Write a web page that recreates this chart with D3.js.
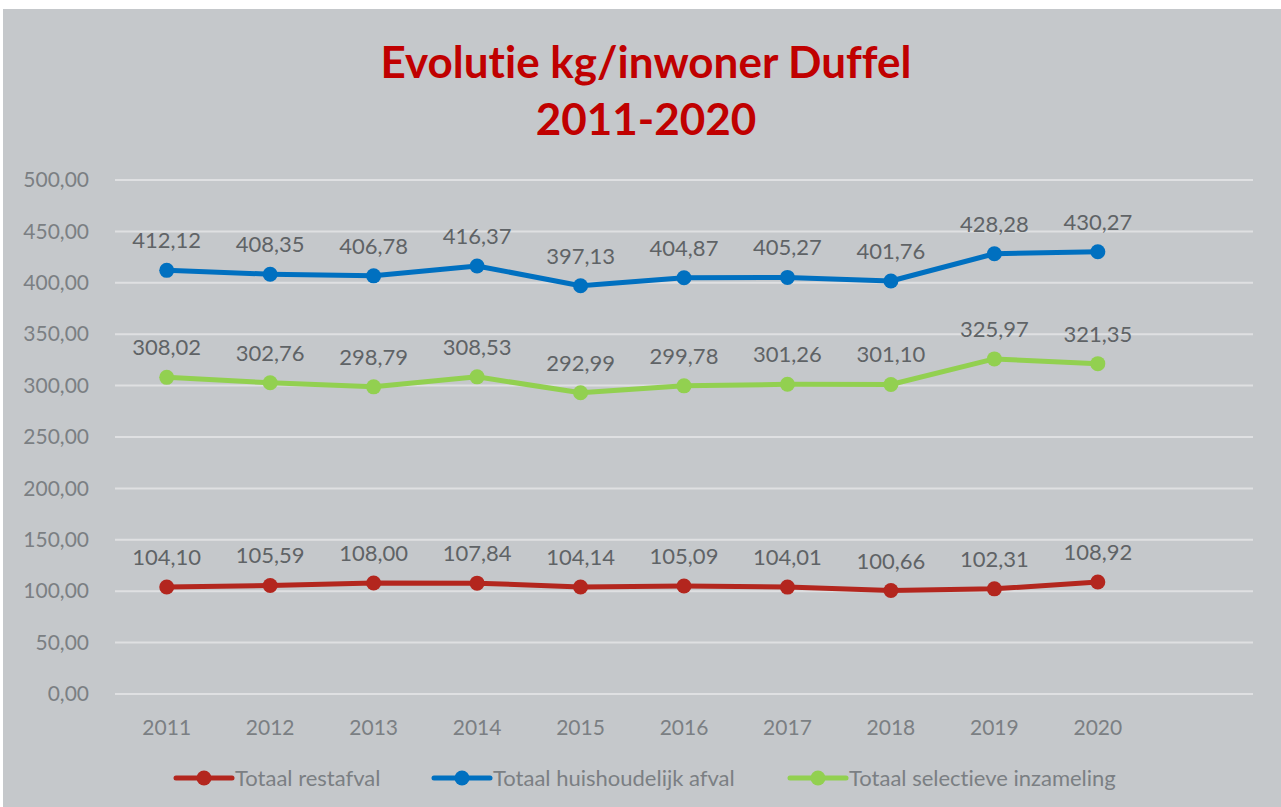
<!DOCTYPE html>
<html>
<head>
<meta charset="utf-8">
<script src="https://cdn.jsdelivr.net/npm/d3@7"></script>
<style>
  body { margin: 0; background: #fff; }
  svg { display: block; font-family: Lato, "Open Sans", sans-serif; font-variant-ligatures: none; }
</style>
</head>
<body>
<div id="chart"></div>
<script>
(function(){
	var years = ["2011", "2012", "2013", "2014", "2015", "2016", "2017", "2018", "2019", "2020"];
	var restafval = [104.10, 105.59, 108.00, 107.84, 104.14, 105.09, 104.01, 100.66, 102.31, 108.92];
	var huishoudelijk = [412.12, 408.35, 406.78, 416.37, 397.13, 404.87, 405.27, 401.76, 428.28, 430.27];
	var selectief = [308.02, 302.76, 298.79, 308.53, 292.99, 299.78, 301.26, 301.10, 325.97, 321.35];
	var seriesNames = ["Totaal restafval", "Totaal huishoudelijk afval", "Totaal selectieve inzameling"];
	var yTicks = [0, 50, 100, 150, 200, 250, 300, 350, 400, 450, 500];

	var colors = ["#b3261e", "#0070c0", "#92d050"];
	var series = [restafval, huishoudelijk, selectief].map(function(v, i) {
		return { name: seriesNames[i], color: colors[i], values: v };
	});

	var width = 1281, height = 807;
	var margin = {top: 180, right: 28, bottom: 113, left: 115};

	var fmt = function(v) { return d3.format(".2f")(v).replace(".", ","); };

	var svg = d3.select("#chart").append("svg")
		.attr("width", width)
		.attr("height", height);

	// chart area background
	svg.append("rect")
		.attr("x", 3).attr("y", 9)
		.attr("width", width - 3).attr("height", height - 9)
		.attr("fill", "#c5c8cb");

	// extra empty slot at the end, like the original
	var x = d3.scaleBand()
		.domain(years.concat([""]))
		.range([margin.left, width - margin.right]);

	var y = d3.scaleLinear()
		.domain([0, 500])
		.range([height - margin.bottom, margin.top]);

	// title
	var title = svg.append("text")
		.attr("text-anchor", "middle")
		.attr("fill", "#c00000")
		.style("font-weight", "bold")
		.style("font-size", "44px");
	title.append("tspan").attr("x", 646).attr("y", 78).text("Evolutie kg/inwoner Duffel");
	title.append("tspan").attr("x", 646).attr("y", 135).text("2011-2020");

	// gridlines
	svg.append("g")
		.selectAll("line")
		.data(yTicks)
		.enter()
		.append("line")
		.attr("x1", margin.left)
		.attr("x2", width - margin.right)
		.attr("y1", function(d) { return y(d); })
		.attr("y2", function(d) { return y(d); })
		.style("stroke", "#dfe0e2")
		.style("stroke-width", "2px");

	// y axis
	var yAxis = svg.append("g")
		.attr("transform", "translate(" + (margin.left - 23) + ",0)")
		.call(d3.axisLeft(y).tickValues(yTicks).tickSize(0).tickFormat(fmt));
	yAxis.select(".domain").remove();
	yAxis.selectAll("text")
		.attr("fill", "#7b7f83")
		.style("font-size", "21px")
		.style("font-family", "Lato, sans-serif");

	// x axis
	var xAxis = svg.append("g")
		.attr("transform", "translate(0," + (y(0) + 23) + ")")
		.call(d3.axisBottom(x).tickSize(0));
	xAxis.select(".domain").remove();
	xAxis.selectAll("text")
		.attr("fill", "#7b7f83")
		.style("font-size", "21px")
		.style("font-family", "Lato, sans-serif");

	var line = d3.line()
		.x(function(d, i) { return x(years[i]) + x.bandwidth() / 2; })
		.y(function(d) { return y(d); });

	var groups = svg.append("g")
		.selectAll("g.series")
		.data(series)
		.enter()
		.append("g")
		.attr("class", "series");

	groups.append("path")
		.attr("d", function(d) { return line(d.values); })
		.attr("fill", "none")
		.attr("stroke", function(d) { return d.color; })
		.attr("stroke-width", 5)
		.attr("stroke-linejoin", "round");

	groups.selectAll("circle")
		.data(function(d) { return d.values.map(function(v, i) { return {v: v, i: i, color: d.color}; }); })
		.enter()
		.append("circle")
		.attr("cx", function(d) { return x(years[d.i]) + x.bandwidth() / 2; })
		.attr("cy", function(d) { return y(d.v); })
		.attr("r", 7.5)
		.attr("fill", function(d) { return d.color; });

	groups.selectAll("text.lbl")
		.data(function(d) { return d.values.map(function(v, i) { return {v: v, i: i}; }); })
		.enter()
		.append("text")
		.attr("class", "lbl")
		.attr("x", function(d) { return x(years[d.i]) + x.bandwidth() / 2; })
		.attr("y", function(d) { return y(d.v) - 22; })
		.attr("text-anchor", "middle")
		.attr("fill", "#5f6366")
		.style("font-size", "22px")
		.text(function(d) { return fmt(d.v); });

	// legend
	var legendX = [176, 434, 790];
	var legend = svg.append("g")
		.selectAll("g")
		.data(series)
		.enter()
		.append("g")
		.attr("transform", function(d, i) { return "translate(" + legendX[i] + ",778)"; });
	legend.append("line")
		.attr("x1", 0).attr("x2", 56)
		.attr("stroke", function(d) { return d.color; })
		.attr("stroke-width", 5)
		.attr("stroke-linecap", "round");
	legend.append("circle")
		.attr("cx", 28).attr("r", 7.5)
		.attr("fill", function(d) { return d.color; });
	legend.append("text")
		.attr("x", 59).attr("y", 8)
		.attr("fill", "#7b7f83")
		.style("font-size", "22px")
		.text(function(d) { return d.name; });
})();
</script>
</body>
</html>
